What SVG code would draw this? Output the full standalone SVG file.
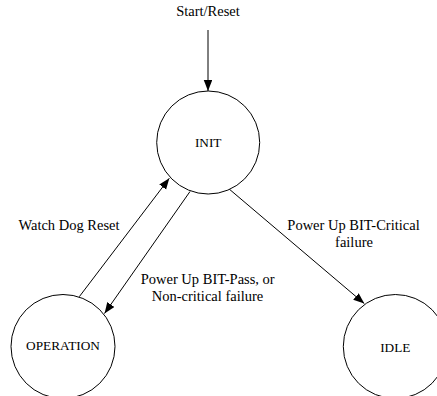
<svg xmlns="http://www.w3.org/2000/svg" width="437" height="396" viewBox="0 0 437 396">
  <style>
    .state { fill: #ffffff; stroke: #000000; stroke-width: 1; }
    .state-label { font-size: 13.3px; fill: #000000; text-anchor: middle; dominant-baseline: central; }
    .edge { stroke: #000000; stroke-width: 1; fill: none; marker-end: url(#arrow); }
    .edge-label { font-size: 14.5px; fill: #000000; text-anchor: middle; }
  </style>
  <defs>
    <marker id="arrow" markerUnits="userSpaceOnUse" markerWidth="12" markerHeight="9" refX="11" refY="4.25" orient="auto">
      <path d="M0,0 L11,4.25 L0,8.5 z" fill="#000000"/>
    </marker>
  </defs>

  <rect width="437" height="396" fill="#ffffff"/>

  <!-- transitions -->
  <g id="connectors">
    <line class="edge" x1="208" y1="30" x2="208" y2="91"/>
    <line class="edge" x1="79.3" y1="296.7" x2="169.3" y2="178.3"/>
    <line class="edge" x1="190" y1="191.5" x2="104.5" y2="313.5"/>
    <line class="edge" x1="228.3" y1="188.3" x2="364.3" y2="303.6"/>
  </g>

  <!-- transition labels -->
  <g id="labels" font-family="Liberation Serif, serif">
    <text class="edge-label" x="208" y="15.5">Start/Reset</text>
    <text class="edge-label" x="69" y="229.5">Watch Dog Reset</text>
    <text class="edge-label" x="353.5" y="229.5">Power Up BIT-Critical</text>
    <text class="edge-label" x="354" y="247.3">failure</text>
    <text class="edge-label" x="207.7" y="284">Power Up BIT-Pass, or</text>
    <text class="edge-label" x="207.5" y="300.6">Non-critical failure</text>
  </g>

  <g id="init" font-family="Liberation Serif, serif">
    <circle class="state" cx="208.2" cy="142.5" r="51.5"/>
    <text class="state-label" x="208.2" y="142">INIT</text>
  </g>

  <g id="operation" font-family="Liberation Serif, serif">
    <circle class="state" cx="63" cy="346.5" r="52"/>
    <text class="state-label" x="63" y="345.5">OPERATION</text>
  </g>

  <g id="idle" font-family="Liberation Serif, serif">
    <circle class="state" cx="395.3" cy="346.5" r="52"/>
    <text class="state-label" x="395.3" y="347.5">IDLE</text>
  </g>
</svg>
